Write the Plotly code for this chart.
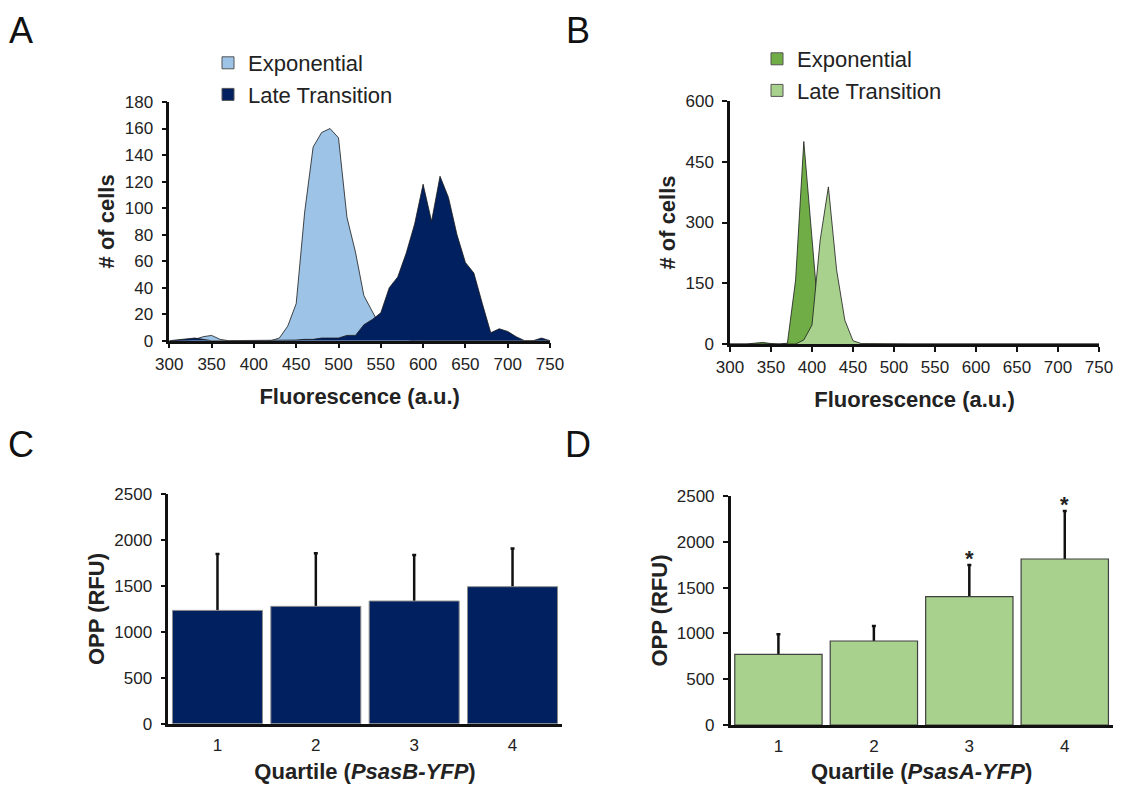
import plotly.graph_objects as go

# ---------------- data ----------------
fluorescence = list(range(300, 760, 10))  # 300..750 bins

# Panel A (# of cells)
exp_A = [0, 0, 0.5, 1, 3, 4, 1, 0, 0, 0, 0, 0, 0, 2, 11, 28, 97, 146, 157, 160,
         153, 93, 67, 34, 22, 10, 5, 2, 1, 0, 0, 0, 0, 0, 0, 0, 0, 0, 0, 0,
         0, 0, 0, 0, 0, 0]
late_A = [0, 0.5, 1, 2, 1, 0, 0, 0, 0, 0, 0, 0, 0, 0, 0, 0.5, 1, 1, 2, 2,
          2, 4, 4, 12, 16, 21, 40, 48, 66, 88, 118, 90, 124, 108, 80, 59, 51, 28, 6, 9,
          7, 3, 0, 0, 2, 0]

# Panel B (# of cells)
exp_B = [0, 0, 0, 2, 4, 1, 0, 2, 158, 500, 261, 21, 3, 0, 0, 0, 0, 0, 0, 0,
         0, 0, 0, 0, 0, 0, 0, 0, 0, 0, 0, 0, 0, 0, 0, 0, 0, 0, 0, 0,
         0, 0, 0, 0, 0, 0]
late_B = [0, 0, 0, 0, 0, 0, 0, 0, 0, 10, 47, 257, 388, 183, 59, 8, 1, 1, 0.5, 0,
          0, 0, 0, 0, 0, 0, 0, 0, 0, 0, 0, 0, 0, 0, 0, 0, 0, 0, 0, 0,
          0, 0, 0, 0, 0, 0]

# Panels C and D (OPP, RFU)
quartiles = ["1", "2", "3", "4"]
opp_C = [1235, 1279, 1337, 1493]
err_C = [615, 578, 502, 415]
opp_D = [771, 917, 1401, 1812]
err_D = [219, 164, 346, 524]
signif_D = ["", "", "*", "*"]

series_names = ["Exponential", "Late Transition"]
panel_letters = ["A", "B", "C", "D"]

# ---------------- style ----------------
FONT = "Liberation Sans, Arial, sans-serif"
TXT = "#222222"
LIGHT_BLUE = "#9DC3E6"
NAVY = "#002060"
DARK_GREEN = "#70AD47"
LIGHT_GREEN = "#A9D18E"

# the page body has an 8px default margin: the figure starts at (8, 8)
OX, OY = 8, 8
W, H = 1106, 776


def px_x(a, b):
    return [(a - OX) / W, (b - OX) / W]


def px_y(top, bottom):
    return [1 - (bottom - OY) / H, 1 - (top - OY) / H]


def fx(a):
    return (a - OX) / W


def fy(b):
    return 1 - (b - OY) / H


fig = go.Figure()

# Panel A areas
fig.add_trace(go.Scatter(x=fluorescence, y=exp_A, mode="lines", fill="tozeroy",
                         fillcolor=LIGHT_BLUE, line=dict(color="#1a1a1a", width=0.8),
                         xaxis="x", yaxis="y", showlegend=False, hoverinfo="skip"))
fig.add_trace(go.Scatter(x=fluorescence, y=late_A, mode="lines", fill="tozeroy",
                         fillcolor=NAVY, line=dict(color="#1a1a1a", width=0.8),
                         xaxis="x", yaxis="y", showlegend=False, hoverinfo="skip"))
# Panel B areas
fig.add_trace(go.Scatter(x=fluorescence, y=exp_B, mode="lines", fill="tozeroy",
                         fillcolor=DARK_GREEN, line=dict(color="#1a1a1a", width=0.8),
                         xaxis="x2", yaxis="y2", showlegend=False, hoverinfo="skip"))
fig.add_trace(go.Scatter(x=fluorescence, y=late_B, mode="lines", fill="tozeroy",
                         fillcolor=LIGHT_GREEN, line=dict(color="#1a1a1a", width=0.8),
                         xaxis="x2", yaxis="y2", showlegend=False, hoverinfo="skip"))

# Legend entries (square swatches)
for name, col, lg, grp in [(series_names[0], LIGHT_BLUE, "legend", "a1"),
                           (series_names[1], NAVY, "legend", "a2"),
                           (series_names[0], DARK_GREEN, "legend2", "b1"),
                           (series_names[1], LIGHT_GREEN, "legend2", "b2")]:
    fig.add_trace(go.Scatter(x=[None], y=[None], mode="markers", name=name,
                             marker=dict(symbol="square", size=12, color=col,
                                         line=dict(color="#555555", width=1)),
                             legend=lg, legendgroup=grp,
                             xaxis="x" if lg == "legend" else "x2",
                             yaxis="y" if lg == "legend" else "y2"))

ERR_STYLE = dict(color="#111111", thickness=2.5, width=2)


def add_bars(xa, ya, means, errs, fill, edge, edge_w, w):
    # transparent carrier for the error bars (lower half hidden behind the real bar)
    fig.add_trace(go.Bar(x=quartiles, y=means, width=w,
                         marker=dict(color="rgba(0,0,0,0)", line=dict(width=0)),
                         error_y=dict(type="data", array=errs, symmetric=True, **ERR_STYLE),
                         xaxis=xa, yaxis=ya, showlegend=False, hoverinfo="skip"))
    fig.add_trace(go.Bar(x=quartiles, y=means, width=w,
                         marker=dict(color=fill, line=dict(color=edge, width=edge_w)),
                         xaxis=xa, yaxis=ya, showlegend=False, hoverinfo="skip"))


add_bars("x3", "y3", opp_C, err_C, NAVY, "#8c8c8c", 1, 0.915)
add_bars("x4", "y4", opp_D, err_D, LIGHT_GREEN, "#404040", 1.2, 0.915)

axis_common = dict(showline=True, linecolor="#111111", linewidth=2.5, showgrid=False,
                   zeroline=False, ticks="outside", tickcolor="#111111", tickwidth=2,
                   ticklen=5, automargin=False,
                   tickfont=dict(family=FONT, size=17, color=TXT))
title_font = dict(family=FONT, size=22, color=TXT)

annotations = []
for i, s in enumerate(signif_D):
    if s:
        annotations.append(dict(x=i, y=opp_D[i] + err_D[i], xref="x4", yref="y4",
                                text="<b>" + s + "</b>", showarrow=False, yanchor="bottom",
                                yshift=-8, font=dict(family=FONT, size=22, color=TXT)))
for letter, lx, ly in zip(panel_letters, [21, 578, 21, 578], [8, 8, 422, 422]):
    annotations.append(dict(x=fx(lx), y=fy(ly), xref="paper", yref="paper", text=letter,
                            showarrow=False, xanchor="center", yanchor="top",
                            font=dict(family=FONT, size=36, color="#111111")))

fig.update_layout(
    width=W, height=H, margin=dict(l=0, r=0, t=0, b=0),
    paper_bgcolor="white", plot_bgcolor="white",
    font=dict(family=FONT, color=TXT),
    barmode="overlay",
    xaxis=dict(axis_common, domain=px_x(169.3, 550), range=[300, 750], dtick=50,
               tick0=300, anchor="y", ticklabelstandoff=1,
               title=dict(text="<b>Fluorescence (a.u.)</b>", font=title_font, standoff=16)),
    yaxis=dict(axis_common, domain=px_y(102, 340.7), range=[0, 180], dtick=20,
               anchor="x", ticklabelstandoff=5,
               title=dict(text="<b># of cells</b>", font=title_font, standoff=5)),
    xaxis2=dict(axis_common, domain=px_x(730, 1099), range=[300, 750], dtick=50,
                tick0=300, anchor="y2", ticklabelstandoff=1,
                title=dict(text="<b>Fluorescence (a.u.)</b>", font=title_font, standoff=16)),
    yaxis2=dict(axis_common, domain=px_y(101, 344), range=[0, 600], dtick=150,
                anchor="x2", ticklabelstandoff=5,
                title=dict(text="<b># of cells</b>", font=title_font, standoff=4)),
    xaxis3=dict(axis_common, domain=px_x(168.3, 561.7), range=[-0.5, 3.5], ticks="",
                anchor="y3", type="category", ticklabelstandoff=4,
                title=dict(text="<b>Quartile (<i>PsasB-YFP</i>)</b>", font=title_font,
                           standoff=12)),
    yaxis3=dict(axis_common, domain=px_y(494.3, 723.7), range=[0, 2500], dtick=500,
                anchor="x3", ticklabelstandoff=5,
                title=dict(text="<b>OPP (RFU)</b>", font=title_font, standoff=4)),
    xaxis4=dict(axis_common, domain=px_x(730.7, 1112.5), range=[-0.5, 3.5], ticks="",
                anchor="y4", type="category", ticklabelstandoff=4,
                title=dict(text="<b>Quartile (<i>PsasA-YFP</i>)</b>", font=title_font,
                           standoff=12)),
    yaxis4=dict(axis_common, domain=px_y(496, 725), range=[0, 2500], dtick=500,
                anchor="x4", ticklabelstandoff=5,
                title=dict(text="<b>OPP (RFU)</b>", font=title_font, standoff=4)),
    legend=dict(x=fx(208), y=fy(42), xanchor="left", yanchor="top",
                font=dict(family=FONT, size=22, color=TXT), bgcolor="rgba(0,0,0,0)",
                tracegroupgap=0, itemwidth=30),
    legend2=dict(x=fx(757), y=fy(38), xanchor="left", yanchor="top",
                 font=dict(family=FONT, size=22, color=TXT), bgcolor="rgba(0,0,0,0)",
                 tracegroupgap=0, itemwidth=30),
    annotations=annotations,
)

fig.write_html("out.html")
